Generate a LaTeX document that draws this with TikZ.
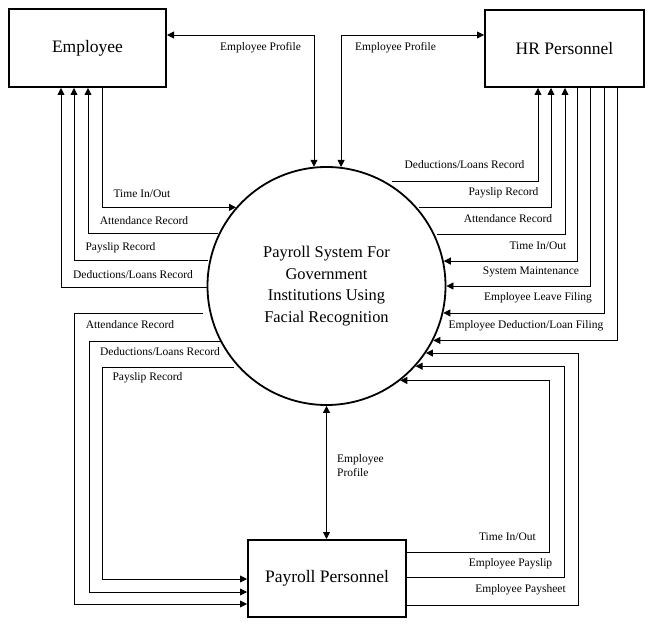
\documentclass[tikz,border=0pt]{standalone}
\usepackage{fontspec}
\setmainfont{Liberation Serif}
\usetikzlibrary{arrows.meta}
\begin{document}
\begin{tikzpicture}[x=1pt,y=-1pt,
  box/.style={draw, line width=2pt, inner sep=0pt, font=\fontsize{17.5}{21}\selectfont},
  proc/.style={draw, circle, line width=1.8pt, minimum size=238pt, inner sep=0pt, align=center, font=\fontsize{16.4}{21.7}\selectfont},
  flow/.style={line width=0.8pt, -{Triangle[length=7pt,width=7pt]}},
  biflow/.style={line width=0.8pt, {Triangle[length=7pt,width=7pt]}-{Triangle[length=7pt,width=7pt]}},
  lbl/.style={inner sep=0pt, font=\fontsize{11.5}{13.5}\selectfont}]
\useasboundingbox (0,0) rectangle (653,628);
% entities
\node[box, minimum width=157pt, minimum height=78pt] (E) at (87.5,48) {Employee};
\node[box, minimum width=159pt, minimum height=77pt] (HR) at (564.5,48.5) {HR Personnel};
\node[box, minimum width=158pt, minimum height=77pt] (P) at (327,578.5) {Payroll Personnel};
\node[proc] (C) at (326.5,286) {Payroll System For\\Government\\Institutions Using\\Facial Recognition};
% free ends
\coordinate (aL) at (218,233);
\coordinate (pL) at (208,260);
\coordinate (dL) at (207,287);
\coordinate (aP) at (203,313);
\coordinate (dP) at (222,341);
\coordinate (pP) at (234,367);
\coordinate (dR) at (392,181);
\coordinate (pR) at (419,207);
\coordinate (aR) at (437,234);
% top
\draw[biflow] (E.east |- 0,35) -| (C.96.5);
\draw[biflow] (HR.west |- 0,35) -| (C.83.5);
% employee group
\draw[flow] (E.south -| 102,0) |- (C.139);
\draw[flow] (aL) -| (E.south -| 88,0);
\draw[flow] (pL) -| (E.south -| 74,0);
\draw[flow] (dL) -| (E.south -| 61,0);
% payroll group left
\draw[flow] (aP) -| (74,604) -- (P.west |- 0,604);
\draw[flow] (dP) -| (89,592) -- (P.west |- 0,592);
\draw[flow] (pP) -| (102,579) -- (P.west |- 0,579);
% HR group
\draw[flow] (dR) -| (HR.south -| 538,0);
\draw[flow] (pR) -| (HR.south -| 551,0);
\draw[flow] (aR) -| (HR.south -| 565,0);
\draw[flow] (HR.south -| 577,0) |- (C.12.6);
\draw[flow] (HR.south -| 590,0) |- (C.-0.5);
\draw[flow] (HR.south -| 604,0) |- (C.-13.1);
\draw[flow] (HR.south -| 617,0) |- (C.-27.5);
% payroll group right
\draw[flow] (P.east |- 0,552) -- (549,552) |- (C.-52.97);
\draw[flow] (P.east |- 0,577) -- (564,577) |- (C.-42.24);
\draw[flow] (P.east |- 0,605) -- (578,605) |- (C.-34.85);
% bottom
\draw[biflow] (C.south) -- (C.south |- P.north);
% labels
\node[lbl] (t1) at (260.5,48) {Employee Profile};
\node[lbl] (t2) at (395.5,48) {Employee Profile};
\node[lbl] (t3) at (142,194) {Time In/Out};
\node[lbl] (t4) at (144,221) {Attendance Record};
\node[lbl] (t5) at (120.5,248) {Payslip Record};
\node[lbl] (t6) at (133,275) {Deductions/Loans Record};
\node[lbl] (t7) at (130,325) {Attendance Record};
\node[lbl] (t8) at (160,352) {Deductions/Loans Record};
\node[lbl] (t9) at (147.5,378) {Payslip Record};
\node[lbl] (t10) at (464.5,165) {Deductions/Loans Record};
\node[lbl] (t11) at (503.5,193) {Payslip Record};
\node[lbl] (t12) at (508,219) {Attendance Record};
\node[lbl] (t13) at (538,246) {Time In/Out};
\node[lbl] (t14) at (531,272) {System Maintenance};
\node[lbl] (t15) at (538,298) {Employee Leave Filing};
\node[lbl] (t16) at (526,325.5) {Employee Deduction/Loan Filing};
\node[lbl, anchor=west, align=left] (t17) at (337,465.5) {Employee\\Profile};
\node[lbl] (t18) at (507.5,537) {Time In/Out};
\node[lbl] (t19) at (510.5,564) {Employee Payslip};
\node[lbl] (t20) at (520.5,590) {Employee Paysheet};
\end{tikzpicture}
\end{document}
